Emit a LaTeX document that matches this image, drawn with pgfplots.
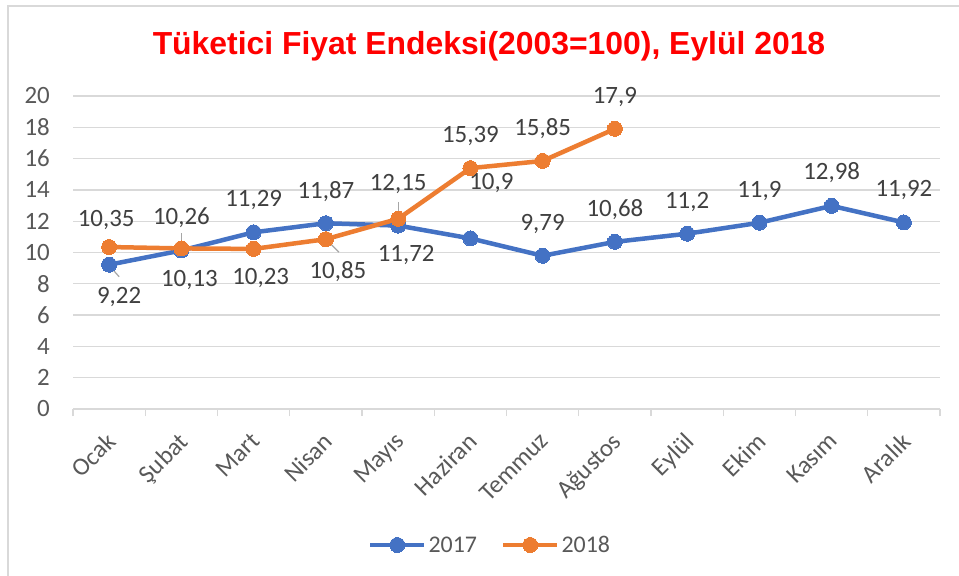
\documentclass[border=0pt]{standalone}
\usepackage{pgfplots}
\pgfplotsset{compat=1.18}
\usepackage{pgfplotstable}
\usepackage{fontspec}
\setmainfont{Carlito}
\newfontfamily\titlefont{Liberation Sans}
\definecolor{cblue}{HTML}{4472C4}
\definecolor{corange}{HTML}{ED7D31}
\definecolor{gridc}{HTML}{D9D9D9}
\definecolor{tickc}{HTML}{595959}
\definecolor{labc}{HTML}{404040}

\pgfplotstableread{
x y lab dx dy
0 9.22 9,22 10 -32
1 10.13 10,13 8 -30
2 11.29 11,29 0 32
3 11.87 11,87 0 32
4 11.72 11,72 8 -29
5 10.9 10,9 21 55
6 9.79 9,79 0 32
7 10.68 10,68 0 32
8 11.2 11,2 0 32
9 11.9 11,9 0 32
10 12.98 12,98 0 33
11 11.92 11,92 0 32
}\dataA

\pgfplotstableread{
x y lab dx dy
0 10.35 10,35 -3 27
1 10.26 10,26 0 31
2 10.23 10,23 7 -29
3 10.85 10,85 12 -32
4 12.15 12,15 0 35
5 15.39 15,39 0 32
6 15.85 15,85 0 32
7 17.9 17,9 0 32
}\dataB

\begin{document}
\begin{tikzpicture}
\useasboundingbox (0,0) rectangle (959bp,576bp);
\fill[white] (0,0) rectangle (959bp,576bp);
\draw[gridc, line width=2bp] (8bp,0) -- (8bp,570bp) -- (959bp,570bp);
\node[font={\titlefont\bfseries\fontsize{32}{37}\selectfont}, text=red] at (489bp,530bp) {Tüketici Fiyat Endeksi(2003=100), Eylül 2018};
\begin{axis}[
  at={(73bp,167bp)}, anchor=south west,
  scale only axis, width=867bp, height=313bp,
  xmin=-0.5, xmax=11.5, ymin=0, ymax=20,
  clip=false,
  axis line style={draw=none},
  xtick={0,...,11},
  xticklabels={Ocak,Şubat,Mart,Nisan,Mayıs,Haziran,Temmuz,Ağustos,Eylül,Ekim,Kasım,Aralık},
  minor xtick={-0.5,0.5,...,11.5},
  major tick length=0pt,
  minor tick length=7bp,
  tick align=outside,
  tick pos=lower,
  minor tick style={gridc, line width=1.3bp},
  ytick={0,2,...,20},
  ymajorgrids,
  major grid style={gridc, line width=1.3bp},
  /pgf/number format/assume math mode=true,
  ticklabel style={font=\fontsize{25}{29}\selectfont, text=tickc},
  yticklabel style={inner sep=0pt, xshift=-23bp},
  xticklabel style={xshift=-4bp, yshift=-22bp, rotate=45, anchor=north east, inner sep=0pt},
  legend columns=2,
  legend style={at={(0.481,-0.4345)}, anchor=center, draw=none, fill=none,
    font=\fontsize{24}{28}\selectfont, text=tickc,
    /tikz/every even column/.append style={column sep=22bp}},
  legend image code/.code={\draw[mark repeat=2,mark phase=2] plot coordinates {(0bp,0bp)(27bp,0bp)(54bp,0bp)};},
  nodes near coords,
  point meta=explicit symbolic,
  visualization depends on={\thisrow{dx} \as \dx},
  visualization depends on={\thisrow{dy} \as \dy},
  every node near coord/.append style={anchor=center, xshift=\dx bp, yshift=\dy bp,
    font=\fontsize{25}{29}\selectfont, text=labc, inner sep=0pt},
]
\draw[gridc, line width=1.3bp] (axis cs:-0.5,0) -- (axis cs:11.5,0);
\draw[gray!70, line width=1.2bp] (axis cs:0,9.22) ++(2bp,-3bp) -- ++(8bp,-9bp);
\draw[gray!70, line width=1.2bp] (axis cs:1,10.26) ++(0bp,15bp) -- ++(0bp,-13bp);
\draw[gray!70, line width=1.2bp] (axis cs:3,10.85) ++(3bp,-3bp) -- ++(10bp,-10bp);
\draw[gray!70, line width=1.2bp] (axis cs:4,12.15) ++(0bp,17bp) -- ++(0bp,-13bp);
\addplot[cblue, line width=4.5bp, mark=*, mark size=7.5bp, mark options={fill=cblue, draw=cblue, line width=0pt}]
  table[x=x, y=y, meta=lab] {\dataA};
\addlegendentry{2017}
\addplot[corange, line width=4.5bp, mark=*, mark size=7.5bp, mark options={fill=corange, draw=corange, line width=0pt}]
  table[x=x, y=y, meta=lab] {\dataB};
\addlegendentry{2018}
\end{axis}
\end{tikzpicture}
\end{document}
